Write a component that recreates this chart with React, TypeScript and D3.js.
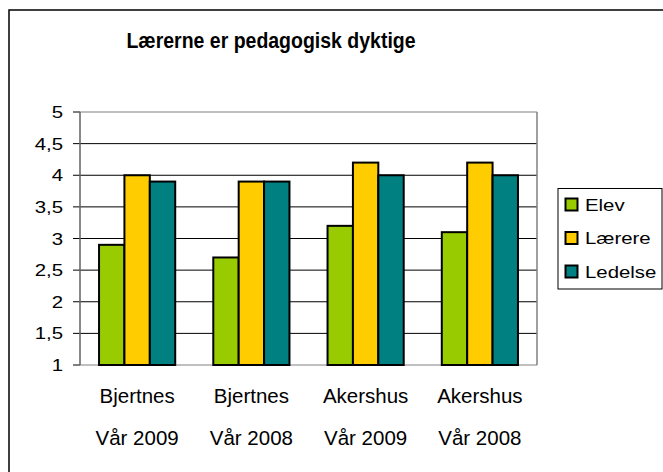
import React from "react";
import * as d3 from "d3";

const categories = ["Bjertnes|Vår 2009", "Bjertnes|Vår 2008", "Akershus|Vår 2009", "Akershus|Vår 2008"];
const seriesNames = ["Elev", "Lærere", "Ledelse"];
const elev = [2.9, 2.7, 3.2, 3.1];
const laerere = [4.0, 3.9, 4.2, 4.2];
const ledelse = [3.9, 3.9, 4.0, 4.0];
const yTicks = [1, 1.5, 2, 2.5, 3, 3.5, 4, 4.5, 5];
const colors = ["#99CC00", "#FFCC00", "#008080"];
const title = "Lærerne er pedagogisk dyktige";

export default function App() {
  const W = 663, H = 472;
  const left = 80, right = 537, top = 112, bottom = 365;
  const series = [elev, laerere, ledelse];
  const x0 = d3.scaleBand().domain(categories).range([left, right]).paddingInner(0).paddingOuter(0);
  const bw = x0.bandwidth() / 4.5;
  const y = d3.scaleLinear().domain([1, 5]).range([bottom, top]);
  const font = "'Liberation Sans', Arial, sans-serif";
  const fmt = (v: number) => String(v).replace(".", ",");
  return (
    <svg width={W} height={H} style={{ position: "absolute", left: 0, top: 0, background: "#fff" }} fontFamily={font}>
      <rect x={0} y={0} width={W} height={H} fill="#fff" />
      <rect x={9} y={10} width={720} height={520} fill="none" stroke="#000" strokeWidth={1.5} />
      <text x={271} y={48} textAnchor="middle" fontWeight="bold" fontSize={20} transform="translate(271,48) scale(0.975,1.08) translate(-271,-48)">{title}</text>
      {yTicks.map((t) => (
        <g key={t}>
          <line x1={left} x2={right} y1={y(t)} y2={y(t)} stroke={t === 5 || t === 1 ? "#808080" : "#000"} strokeWidth={1} />
          <line x1={left - 7} x2={left} y1={y(t)} y2={y(t)} stroke="#000" strokeWidth={1} />
          <text x={63} y={y(t)} dy="0.36em" textAnchor="end" fontSize={17} transform={`translate(63,0) scale(1.2,1) translate(-63,0)`}>{fmt(t)}</text>
        </g>
      ))}
      <line x1={right} x2={right} y1={top} y2={bottom} stroke="#808080" strokeWidth={1.5} />
      <line x1={left} x2={left} y1={top} y2={bottom} stroke="#606060" strokeWidth={1.5} />
      {categories.map((c, i) => {
        const bx = (x0(c) as number) + bw * 0.75;
        const cx = (x0(c) as number) + x0.bandwidth() / 2;
        return (
          <g key={c}>
            {series.map((s, j) => (
              <rect key={j} x={bx + j * bw} y={y(s[i])} width={bw} height={y(1) - y(s[i])} fill={colors[j]} stroke="#000" strokeWidth={2} />
            ))}
            <text x={cx} y={403} textAnchor="middle" fontSize={20.5}>{c.split("|")[0]}</text>
            <text x={cx} y={445} textAnchor="middle" fontSize={20.5}>{c.split("|")[1]}</text>
          </g>
        );
      })}
      <rect x={558} y={188.5} width={104} height={100.5} fill="#fff" stroke="#000" strokeWidth={1} />
      {seriesNames.map((n, i) => {
        const cy = 204.5 + i * 33.5;
        return (
          <g key={n}>
            <rect x={565.5} y={cy - 6} width={12} height={12} fill={colors[i]} stroke="#000" strokeWidth={2} />
            <text x={585} y={cy} dy="0.36em" fontSize={17} transform={`translate(585,0) scale(1.2,1) translate(-585,0)`}>{n}</text>
          </g>
        );
      })}
    </svg>
  );
}
